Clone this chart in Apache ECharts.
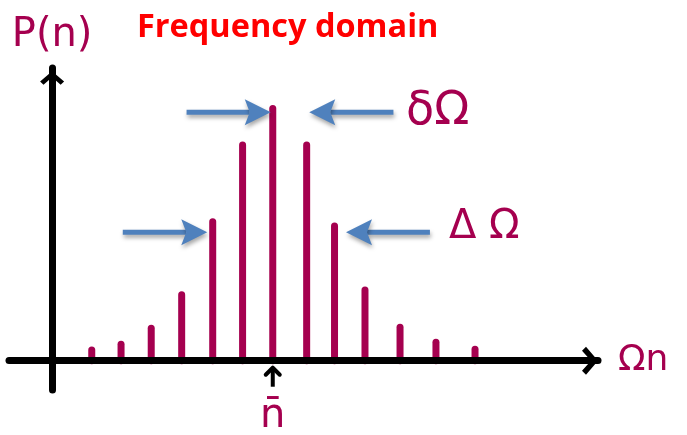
<!DOCTYPE html>
<html>
<head>
<meta charset="utf-8">
<script src="https://cdn.jsdelivr.net/npm/echarts@6/dist/echarts.min.js"></script>
<style>
  html, body { margin: 0; padding: 0; background: #ffffff; }
  #chart { width: 687px; height: 435px; }
</style>
</head>
<body>
<div id="chart"></div>
<script>
// Frequency components Ω_n and their weights P(n)
const omegaN = [1.38, 2.40, 3.45, 4.51, 5.59, 6.63, 7.68, 8.86, 9.83, 10.89, 12.11, 13.36, 14.72];
const weightP = [3.7, 5.6, 11.1, 22.5, 47.5, 73.7, 86.2, 73.7, 46.0, 24.2, 11.4, 6.3, 3.9];

// Mean frequency n̄ (the tallest component)
const meanOmega = 7.68;

// Width markers: tail position, tip position, height of each blue arrow
const arrowFrom = [4.68, 11.88, 2.46, 13.15];
const arrowTo = [7.61, 8.95, 5.40, 10.23];
const arrowLevel = [84.9, 84.9, 43.9, 43.9];

const BAR = '#A5004F';
const BLUE = '#4F81BD';
const INK = '#A5004F';

const barData = omegaN.map((x, i) => [x, weightP[i]]);
const arrowData = arrowFrom.map((x, i) => [x, arrowTo[i], arrowLevel[i]]);

// open chevron used as arrow head on both axes (points up before rotation)
const chevron = 'path://M14,0 L28,12 L24,16 L14,7 L4,16 L0,12 Z';

const chart = echarts.init(document.getElementById('chart'), null, { renderer: 'canvas' });

const shadow = { shadowColor: 'rgba(0,0,0,0.35)', shadowBlur: 4, shadowOffsetX: 1, shadowOffsetY: 3 };

chart.setOption({
  animation: false,
  backgroundColor: '#ffffff',
  title: {
    text: 'Frequency domain',
    left: 132,
    top: 6,
    textStyle: { color: '#FF0000', fontFamily: 'Open Sans', fontWeight: 'bold', fontSize: 32.5 }
  },
  grid: { left: 9, right: 89, top: 68, bottom: 45 },
  xAxis: {
    type: 'value',
    min: -1.5,
    max: 19,
    z: 5,
    name: 'Ωn',
    nameLocation: 'end',
    nameGap: 20,
    nameTextStyle: { color: INK, fontFamily: 'DejaVu Sans', fontSize: 36, verticalAlign: 'middle', padding: [36, 0, 0, 0] },
    axisLine: {
      onZero: true,
      symbol: ['none', chevron],
      symbolSize: [28, 16],
      symbolOffset: [0, -8],
      lineStyle: { color: '#000000', width: 7, cap: 'round' }
    },
    axisTick: { show: false },
    axisLabel: { show: false },
    splitLine: { show: false }
  },
  yAxis: {
    type: 'value',
    min: -10,
    max: 100,
    z: 5,
    name: 'P(n)',
    nameLocation: 'end',
    nameGap: 12,
    nameTextStyle: { color: INK, fontFamily: 'DejaVu Sans', fontSize: 40, align: 'center' },
    axisLine: {
      onZero: true,
      symbol: ['none', chevron],
      symbolSize: [24, 20],
      symbolOffset: [0, -10],
      lineStyle: { color: '#000000', width: 7, cap: 'round' }
    },
    axisTick: { show: false },
    axisLabel: { show: false },
    splitLine: { show: false }
  },
  series: [
    {
      // spectral lines
      type: 'custom',
      data: barData,
      encode: { x: 0, y: 1 },
      z: 2,
      renderItem: function (params, api) {
        const base = api.coord([api.value(0), 0]);
        const top = api.coord([api.value(0), api.value(1)]);
        return {
          type: 'line',
          shape: { x1: base[0], y1: base[1], x2: top[0], y2: top[1] },
          style: { stroke: BAR, lineWidth: 7, lineCap: 'round' }
        };
      }
    },
    {
      // blue width markers
      type: 'custom',
      data: arrowData,
      encode: { x: [0, 1], y: 2 },
      z: 3,
      renderItem: function (params, api) {
        const a = api.coord([api.value(0), api.value(2)]);
        const b = api.coord([api.value(1), api.value(2)]);
        const dir = b[0] > a[0] ? 1 : -1;
        const len = 26, half = 13, notch = 21;
        return {
          type: 'group',
          children: [
            {
              type: 'line',
              shape: { x1: a[0], y1: a[1], x2: b[0] - dir * notch, y2: b[1] },
              style: Object.assign({ stroke: BLUE, lineWidth: 5 }, shadow)
            },
            {
              type: 'polygon',
              shape: {
                points: [
                  [b[0], b[1]],
                  [b[0] - dir * len, b[1] - half],
                  [b[0] - dir * notch, b[1]],
                  [b[0] - dir * len, b[1] + half]
                ]
              },
              style: Object.assign({ fill: BLUE }, shadow)
            }
          ]
        };
      }
    },
    {
      // pointer and label for the mean n̄
      type: 'custom',
      data: [[meanOmega, 0]],
      encode: { x: 0, y: 1 },
      z: 4,
      renderItem: function (params, api) {
        const p = api.coord([api.value(0), 0]);
        const x = p[0], y = p[1];
        return {
          type: 'group',
          children: [
            {
              type: 'line',
              shape: { x1: x, y1: y + 8, x2: x, y2: y + 26 },
              style: { stroke: '#000000', lineWidth: 4 }
            },
            {
              type: 'polyline',
              shape: { points: [[x - 7, y + 14], [x, y + 7], [x + 7, y + 14]] },
              style: { stroke: '#000000', lineWidth: 4, fill: null, lineJoin: 'round', lineCap: 'round' }
            },
            {
              type: 'text',
              style: {
                x: x,
                y: y + 36,
                text: 'n̄',
                fill: INK,
                font: '40px "DejaVu Sans"',
                align: 'center',
                verticalAlign: 'top'
              }
            }
          ]
        };
      }
    }
  ],
  graphic: [
    {
      type: 'text',
      left: 406,
      top: 89,
      style: { text: 'δΩ', fill: INK, font: '46px "DejaVu Sans"' }
    },
    {
      type: 'text',
      left: 449,
      top: 208,
      style: { text: 'Δ Ω', fill: INK, font: '40px "DejaVu Sans"' }
    }
  ]
});
</script>
</body>
</html>
